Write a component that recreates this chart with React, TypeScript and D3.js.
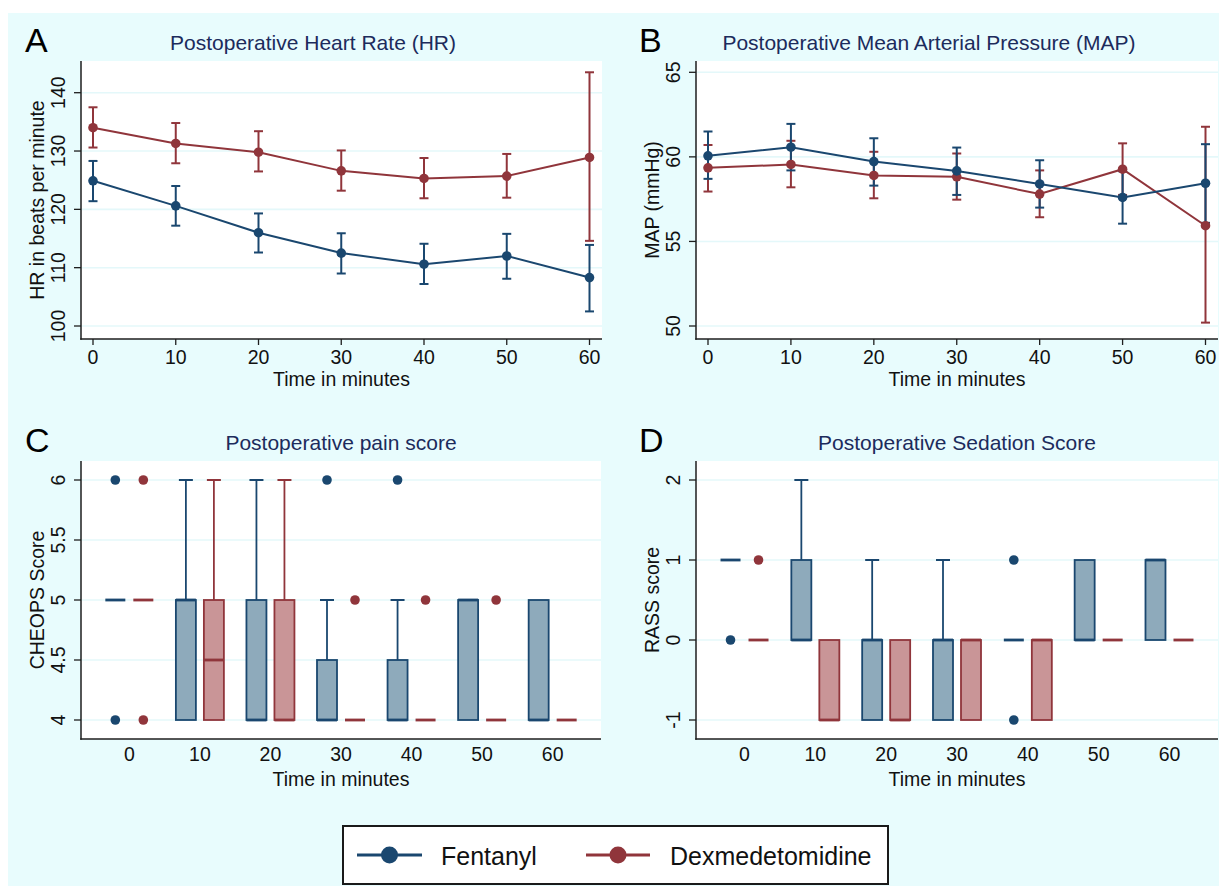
import { useEffect, useRef } from 'react';
import * as d3 from 'd3';

const times = [0, 10, 20, 30, 40, 50, 60];

// Panel A: heart rate, mean and 95% CI
const hrFentanyl = [124.9, 120.6, 116.0, 112.5, 110.6, 112.0, 108.3];
const hrFentanylLower = [121.4, 117.2, 112.6, 109.0, 107.2, 108.1, 102.5];
const hrFentanylUpper = [128.3, 124.0, 119.3, 115.9, 114.1, 115.8, 113.9];
const hrDex = [134.0, 131.3, 129.8, 126.6, 125.3, 125.7, 128.9];
const hrDexLower = [130.6, 127.9, 126.5, 123.2, 121.9, 122.0, 114.6];
const hrDexUpper = [137.5, 134.8, 133.4, 130.1, 128.8, 129.5, 143.5];
const hrTicks = [100, 110, 120, 130, 140];

// Panel B: mean arterial pressure
const mapFentanyl = [60.06, 60.57, 59.72, 59.17, 58.4, 57.6, 58.44];
const mapFentanylLower = [58.7, 59.2, 58.3, 57.75, 57.0, 56.05, 56.1];
const mapFentanylUpper = [61.5, 61.95, 61.1, 60.55, 59.8, 59.15, 60.75];
const mapDex = [59.35, 59.55, 58.9, 58.82, 57.8, 59.27, 55.93];
const mapDexLower = [57.95, 58.2, 57.55, 57.47, 56.43, 57.75, 50.2];
const mapDexUpper = [60.7, 60.95, 60.3, 60.2, 59.2, 60.8, 61.78];
const mapTicks = [50, 55, 60, 65];

// Panel C: CHEOPS pain score boxes [lower whisker, q1, median, q3, upper whisker]
const painFentanyl = [
  [5, 5, 5, 5, 5], [4, 4, 5, 5, 6], [4, 4, 4, 5, 6], [4, 4, 4, 4.5, 5],
  [4, 4, 4, 4.5, 5], [4, 4, 5, 5, 5], [4, 4, 4, 5, 5],
];
const painFentanylOutliers = [[4, 6], [], [], [6], [6], [], []];
const painDex = [
  [5, 5, 5, 5, 5], [4, 4, 4.5, 5, 6], [4, 4, 4, 5, 6], [4, 4, 4, 4, 4],
  [4, 4, 4, 4, 4], [4, 4, 4, 4, 4], [4, 4, 4, 4, 4],
];
const painDexOutliers = [[4, 6], [], [], [5], [5], [5], []];
const painTicks = [4, 4.5, 5, 5.5, 6];

// Panel D: RASS sedation score boxes
const sedFentanyl = [
  [1, 1, 1, 1, 1], [0, 0, 0, 1, 2], [-1, -1, 0, 0, 1], [-1, -1, 0, 0, 1],
  [0, 0, 0, 0, 0], [0, 0, 0, 1, 1], [0, 0, 1, 1, 1],
];
const sedFentanylOutliers = [[0], [], [], [], [1, -1], [], []];
const sedDex = [
  [0, 0, 0, 0, 0], [-1, -1, -1, 0, 0], [-1, -1, -1, 0, 0], [-1, -1, 0, 0, 0],
  [-1, -1, 0, 0, 0], [0, 0, 0, 0, 0], [0, 0, 0, 0, 0],
];
const sedDexOutliers = [[1], [], [], [], [], [], []];
const sedTicks = [-1, 0, 1, 2];

const groups = ['Fentanyl', 'Dexmedetomidine'];

const W = 1219;
const H = 886;
const BLUE = '#1a476f';
const RED = '#90353b';
const BLUE_FILL = '#8eaabb';
const RED_FILL = '#c99597';
const BG = '#e8fcfd';
const GRID = '#e4f8fa';
const TITLE = '#1c2b5c';
const FONT = '"Liberation Sans", Arial, Helvetica, sans-serif';

type Box = { left: number; right: number; top: number; bottom: number };

function drawFrame(g: any, box: Box, y: any, ticks: number[], o: any) {
  g.append('rect')
    .attr('x', box.left).attr('y', box.top)
    .attr('width', box.right - box.left).attr('height', box.bottom - box.top)
    .attr('fill', '#fff');

  g.selectAll('.grid').data(ticks).enter().append('line')
    .attr('x1', box.left).attr('x2', box.right)
    .attr('y1', (d: number) => y(d)).attr('y2', (d: number) => y(d))
    .attr('stroke', GRID).attr('stroke-width', 1.6);

  g.append('line')
    .attr('x1', box.left).attr('x2', box.left)
    .attr('y1', box.top).attr('y2', box.bottom + 0.75)
    .attr('stroke', '#1e1e1e').attr('stroke-width', 1.5);
  g.append('line')
    .attr('x1', box.left - 0.75).attr('x2', box.right)
    .attr('y1', box.bottom).attr('y2', box.bottom)
    .attr('stroke', '#1e1e1e').attr('stroke-width', 1.5);

  // y ticks + rotated labels
  g.selectAll('.ytick').data(ticks).enter().append('line')
    .attr('x1', box.left - 7).attr('x2', box.left)
    .attr('y1', (d: number) => y(d)).attr('y2', (d: number) => y(d))
    .attr('stroke', '#1e1e1e').attr('stroke-width', 1.3);
  g.selectAll('.ylab').data(ticks).enter().append('text')
    .attr('transform', (d: number) => `translate(${box.left - 16},${y(d)}) rotate(-90)`)
    .attr('text-anchor', 'middle')
    .attr('font-size', 19.5)
    .attr('font-family', FONT)
    .attr('fill', '#111')
    .text((d: number) => String(d));

  const cx = (box.left + box.right) / 2;
  const cy = (box.top + box.bottom) / 2;

  g.append('text')
    .attr('x', o.titleX).attr('y', box.top - 11)
    .attr('text-anchor', 'middle')
    .attr('font-size', 21).attr('font-family', FONT).attr('fill', TITLE)
    .text(o.title);

  g.append('text')
    .attr('x', o.letterX).attr('y', box.top - 9)
    .attr('font-size', 34).attr('font-family', FONT).attr('fill', '#000')
    .text(o.letter);

  g.append('text')
    .attr('transform', `translate(${box.left - 37},${cy}) rotate(-90)`)
    .attr('text-anchor', 'middle')
    .attr('font-size', 19.5).attr('font-family', FONT).attr('fill', '#111')
    .text(o.yTitle);

  g.append('text')
    .attr('x', cx).attr('y', box.bottom + 46.5)
    .attr('text-anchor', 'middle')
    .attr('font-size', 19.5).attr('font-family', FONT).attr('fill', '#111')
    .text('Time in minutes');
}

function drawLinePanel(svg: any, box: Box, yRange: number[], ticks: number[], series: any[], o: any) {
  const g = svg.append('g');
  const y = d3.scaleLinear().domain([ticks[0], ticks[ticks.length - 1]]).range(yRange);
  const x = d3.scaleLinear().domain([0, 60]).range([box.left + 12, box.right - 12.5]);
  drawFrame(g, box, y, ticks, o);

  g.selectAll('.xtick').data(times).enter().append('line')
    .attr('x1', (d: number) => x(d)).attr('x2', (d: number) => x(d))
    .attr('y1', box.bottom).attr('y2', box.bottom + 6)
    .attr('stroke', '#1e1e1e').attr('stroke-width', 1.3);
  g.selectAll('.xlab').data(times).enter().append('text')
    .attr('x', (d: number) => x(d)).attr('y', box.bottom + 25)
    .attr('text-anchor', 'middle')
    .attr('font-size', 19.5).attr('font-family', FONT).attr('fill', '#111')
    .text((d: number) => String(d));

  // error bars first
  series.forEach((s) => {
    times.forEach((t, i) => {
      const xx = x(t);
      g.append('line')
        .attr('x1', xx).attr('x2', xx)
        .attr('y1', y(s.lower[i])).attr('y2', y(s.upper[i]))
        .attr('stroke', s.color).attr('stroke-width', 2);
      [s.lower[i], s.upper[i]].forEach((v: number) => {
        g.append('line')
          .attr('x1', xx - 4.5).attr('x2', xx + 4.5)
          .attr('y1', y(v)).attr('y2', y(v))
          .attr('stroke', s.color).attr('stroke-width', 2);
      });
    });
  });

  // connected lines with markers
  series.forEach((s) => {
    const line = d3.line<number>().x((_, i) => x(times[i])).y((d) => y(d));
    g.append('path')
      .attr('d', line(s.mean))
      .attr('fill', 'none').attr('stroke', s.color).attr('stroke-width', 2);
    g.selectAll(null).data(s.mean).enter().append('circle')
      .attr('cx', (_: number, i: number) => x(times[i]))
      .attr('cy', (d: number) => y(d))
      .attr('r', 4.8)
      .attr('fill', s.color);
  });
}

function drawBoxPanel(svg: any, box: Box, yRange: number[], ticks: number[], series: any[], o: any) {
  const g = svg.append('g');
  const y = d3.scaleLinear().domain([ticks[0], ticks[ticks.length - 1]]).range(yRange);
  const x = d3.scalePoint<number>().domain(times).range([box.left, box.right]).padding(0.685);
  drawFrame(g, box, y, ticks, o);

  g.selectAll('.xlab').data(times).enter().append('text')
    .attr('x', (d: number) => x(d)).attr('y', box.bottom + 22)
    .attr('text-anchor', 'middle')
    .attr('font-size', 19.5).attr('font-family', FONT).attr('fill', '#111')
    .text((d: number) => String(d));

  const bw = 20;
  const capW = 14;
  series.forEach((s, si) => {
    const off = si === 0 ? -14 : 14;
    times.forEach((t, i) => {
      const cx = (x(t) as number) + off;
      const [lo, q1, med, q3, hi] = s.boxes[i];
      if (hi > q3) {
        g.append('line').attr('x1', cx).attr('x2', cx)
          .attr('y1', y(q3)).attr('y2', y(hi))
          .attr('stroke', s.color).attr('stroke-width', 1.8);
        g.append('line').attr('x1', cx - capW / 2).attr('x2', cx + capW / 2)
          .attr('y1', y(hi)).attr('y2', y(hi))
          .attr('stroke', s.color).attr('stroke-width', 2);
      }
      if (lo < q1) {
        g.append('line').attr('x1', cx).attr('x2', cx)
          .attr('y1', y(q1)).attr('y2', y(lo))
          .attr('stroke', s.color).attr('stroke-width', 1.8);
        g.append('line').attr('x1', cx - capW / 2).attr('x2', cx + capW / 2)
          .attr('y1', y(lo)).attr('y2', y(lo))
          .attr('stroke', s.color).attr('stroke-width', 2);
      }
      if (q3 > q1) {
        g.append('rect')
          .attr('x', cx - bw / 2).attr('y', y(q3))
          .attr('width', bw).attr('height', y(q1) - y(q3))
          .attr('fill', s.fill).attr('stroke', s.color).attr('stroke-width', 1.8);
      }
      g.append('line').attr('x1', cx - bw / 2).attr('x2', cx + bw / 2)
        .attr('y1', y(med)).attr('y2', y(med))
        .attr('stroke', s.color).attr('stroke-width', 2.8);
      s.outliers[i].forEach((v: number) => {
        g.append('circle').attr('cx', cx).attr('cy', y(v)).attr('r', 4.8).attr('fill', s.color);
      });
    });
  });
}

export default function App() {
  const svgRef = useRef<SVGSVGElement | null>(null);

  useEffect(() => {
    if (!svgRef.current) return;
    const svg = d3.select(svgRef.current);
    svg.selectAll('*').remove();

    svg.append('rect').attr('width', W).attr('height', H).attr('fill', '#fff');
    svg.append('rect').attr('x', 8).attr('y', 13).attr('width', W - 8).attr('height', H - 13).attr('fill', BG);

    drawLinePanel(svg, { left: 81, right: 602, top: 61, bottom: 339 }, [326, 92.7], hrTicks, [
      { mean: hrDex, lower: hrDexLower, upper: hrDexUpper, color: RED },
      { mean: hrFentanyl, lower: hrFentanylLower, upper: hrFentanylUpper, color: BLUE },
    ], { title: 'Postoperative Heart Rate (HR)', titleX: 313, letter: 'A', letterX: 25, yTitle: 'HR in beats per minute' });

    drawLinePanel(svg, { left: 696, right: 1218, top: 61, bottom: 339 }, [326, 72.3], mapTicks, [
      { mean: mapDex, lower: mapDexLower, upper: mapDexUpper, color: RED },
      { mean: mapFentanyl, lower: mapFentanylLower, upper: mapFentanylUpper, color: BLUE },
    ], { title: 'Postoperative Mean Arterial Pressure (MAP)', titleX: 929, letter: 'B', letterX: 639, yTitle: 'MAP (mmHg)' });

    drawBoxPanel(svg, { left: 81, right: 601, top: 461, bottom: 739 }, [720, 480], painTicks, [
      { boxes: painFentanyl, outliers: painFentanylOutliers, color: BLUE, fill: BLUE_FILL },
      { boxes: painDex, outliers: painDexOutliers, color: RED, fill: RED_FILL },
    ], { title: 'Postoperative pain score', titleX: 341, letter: 'C', letterX: 25, yTitle: 'CHEOPS Score' });

    drawBoxPanel(svg, { left: 696, right: 1218, top: 461, bottom: 739 }, [720, 480], sedTicks, [
      { boxes: sedFentanyl, outliers: sedFentanylOutliers, color: BLUE, fill: BLUE_FILL },
      { boxes: sedDex, outliers: sedDexOutliers, color: RED, fill: RED_FILL },
    ], { title: 'Postoperative Sedation Score', titleX: 957, letter: 'D', letterX: 639, yTitle: 'RASS score' });

    // legend
    const lg = svg.append('g');
    lg.append('rect').attr('x', 343).attr('y', 826).attr('width', 545).attr('height', 58)
      .attr('fill', '#fff').attr('stroke', '#1a1a1a').attr('stroke-width', 2);
    const legendItems = [
      { name: groups[0], color: BLUE, x0: 357, x1: 422, tx: 441 },
      { name: groups[1], color: RED, x0: 586, x1: 650, tx: 670 },
    ];
    legendItems.forEach((it) => {
      lg.append('line').attr('x1', it.x0).attr('x2', it.x1).attr('y1', 855).attr('y2', 855)
        .attr('stroke', it.color).attr('stroke-width', 2.8);
      lg.append('circle').attr('cx', (it.x0 + it.x1) / 2).attr('cy', 855).attr('r', 8.5).attr('fill', it.color);
      lg.append('text').attr('x', it.tx).attr('y', 864.5)
        .attr('font-size', 25).attr('font-family', FONT).attr('fill', '#111')
        .text(it.name);
    });
  }, []);

  return (
    <div style={{ position: 'absolute', left: 0, top: 0 }}>
      <svg ref={svgRef} width={W} height={H} style={{ display: 'block' }} />
    </div>
  );
}
